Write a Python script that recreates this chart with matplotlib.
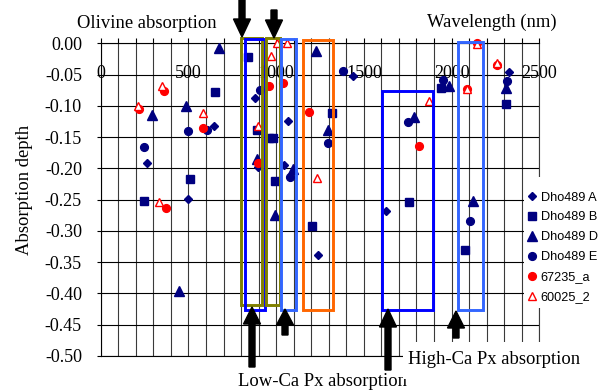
import numpy as np
import matplotlib
matplotlib.use('Agg')
import matplotlib.pyplot as plt
from matplotlib.patches import Rectangle, FancyArrow
from matplotlib.transforms import Affine2D

# ---------------- data ----------------
dia_x = [262, 496, 647, 880, 898, 1046, 1069, 1240, 1440, 1624, 2329]
dia_y = [-0.191, -0.249, -0.132, -0.088, -0.197, -0.195, -0.124, -0.338, -0.053, -0.268, -0.046]

sq_x = [247, 509, 651, 841, 889, 962, 984, 994, 1206, 1320, 1759, 1940, 2078, 2308]
sq_y = [-0.252, -0.217, -0.078, -0.022, -0.139, -0.152, -0.151, -0.220, -0.292, -0.111, -0.254, -0.071, -0.331, -0.097]

tri_x = [290, 484, 448, 674, 889, 994, 1098, 1225, 1294, 1786, 1985, 2124, 2308]
tri_y = [-0.115, -0.100, -0.396, -0.007, -0.185, -0.275, -0.201, -0.012, -0.139, -0.118, -0.069, -0.252, -0.072]

cir_x = [247, 496, 608, 909, 1079, 1297, 1379, 1753, 1949, 2105, 2314]
cir_y = [-0.166, -0.141, -0.139, -0.075, -0.213, -0.159, -0.045, -0.126, -0.059, -0.284, -0.060]

red_x = [218, 363, 370, 585, 898, 959, 1037, 1189, 1816, 2090, 2143, 2257]
red_y = [-0.105, -0.077, -0.264, -0.136, -0.192, -0.069, -0.064, -0.110, -0.164, -0.073, 0.000, -0.034]

otri_x = [211, 332, 351, 585, 898, 971, 1003, 1060, 1235, 1871, 2090, 2143, 2257]
otri_y = [-0.100, -0.254, -0.068, -0.112, -0.132, -0.020, 0.000, 0.000, -0.215, -0.092, -0.073, -0.001, -0.032]

series_labels = ['Dho489 A', 'Dho489 B', 'Dho489 D', 'Dho489 E', '67235_a', '60025_2']

x_ticks = [0, 500, 1000, 1500, 2000, 2500]
x_ticklabels = ['0', '500', '1000', '1500', '2000', '2500']
y_ticks = [0.00, -0.05, -0.10, -0.15, -0.20, -0.25, -0.30, -0.35, -0.40, -0.45, -0.50]
y_ticklabels = ['0.00', '-0.05', '-0.10', '-0.15', '-0.20', '-0.25', '-0.30', '-0.35', '-0.40', '-0.45', '-0.50']

# absorption band boxes: (x0, x1, y_top, y_bottom, colour)
boxes = [
    (797, 917, 0.009, -0.418, '#808000'),
    (820, 934, 0.0064, -0.426, '#0000FF'),
    (941, 1022, 0.009, -0.418, '#808000'),
    (1030, 1115, 0.0064, -0.426, '#3366FF'),
    (1155, 1326, 0.005, -0.426, '#FF6600'),
    (1605, 1896, -0.077, -0.426, '#0000FF'),
    (2037, 2177, 0.0016, -0.426, '#3366FF'),
]

# ---------------- figure ----------------
W, H = 600, 391
fig = plt.figure(figsize=(W / 100, H / 100), dpi=100)
px = Affine2D().scale(1 / W, -1 / H).translate(0, 1) + fig.transFigure

L, R, T, B = 100.7, 539.3, 43.3, 356.0
ax = fig.add_axes([L / W, 1 - B / H, (R - L) / W, (B - T) / H])
ax.set_xlim(0, 2500)
ax.set_ylim(-0.5, 0.0)

serif = 'Liberation Serif'
sans = 'Liberation Sans'
navy = '#000080'
red = '#FF0000'
fs_txt = 13.4
fs_tick = 13.0

kw = dict(ls='none', clip_on=False, zorder=3)
h1, = ax.plot(dia_x, dia_y, marker='D', ms=4.3, color=navy, mec=navy, **kw)
h2, = ax.plot(sq_x, sq_y, marker='s', ms=5.5, color=navy, mec=navy, **kw)
h3, = ax.plot(tri_x, tri_y, marker='^', ms=6.5, color=navy, mec=navy, **kw)
h4, = ax.plot(cir_x, cir_y, marker='o', ms=5.6, color=navy, mec=navy, **kw)
h5, = ax.plot(red_x, red_y, marker='o', ms=5.6, color=red, mec=red, **kw)
h6, = ax.plot(otri_x, otri_y, marker='^', ms=6.2, mfc='white', mec=red, mew=1.0, **kw)

# grid & axes
ax.set_xticks(x_ticks)
ax.set_xticklabels(x_ticklabels, fontfamily=serif, fontsize=fs_tick)
ax.set_xticks(np.arange(0, 2501, 100), minor=True)
ax.set_yticks(y_ticks)
ax.set_yticklabels(y_ticklabels, fontfamily=serif, fontsize=fs_tick)
ax.set_axisbelow(True)
ax.grid(axis='x', which='both', color='#3a3a3a', lw=0.8)
ax.grid(axis='y', which='major', color='black', lw=0.8)
ax.xaxis.tick_top()
ax.tick_params(axis='x', which='both', direction='out', length=3.6, width=0.8,
               top=True, bottom=False, labeltop=True, labelbottom=False, pad=-31.5)
ax.tick_params(axis='x', which='minor', labeltop=False)
ax.tick_params(axis='y', direction='out', length=3, width=0.8, pad=10.5)
for s in ax.spines.values():
    s.set_linewidth(0.8)
    s.set_color('black')
ax.spines['right'].set_color('#3a3a3a')
ax.set_ylabel('Absorption depth', fontfamily=serif, fontsize=fs_txt)
ax.yaxis.set_label_coords(-(L - 33) / (R - L), (B - 190) / (B - T))

# boxes
for x0, x1, yt, yb, c in boxes:
    ax.add_patch(Rectangle((x0, yb), x1 - x0, yt - yb, fill=False, ec=c, lw=2.1,
                           clip_on=False, zorder=4))

# arrows (figure pixel coords): x, y_tail, y_tip, head_length
arrows = [(242, 0, 37, 18), (274, 10, 38, 18), (252, 367, 307, 17),
          (285, 335, 309, 16), (388, 370, 309, 18), (456, 338, 311, 17)]
for x, y0, y1, hl in arrows:
    a = FancyArrow(x, y0, 0, y1 - y0, width=6, head_width=17, head_length=hl,
                   length_includes_head=True, color='black', transform=px, zorder=6)
    fig.add_artist(a)

# text labels
fig.text(146.5, 23, 'Olivine absorption', transform=px, ha='center', va='center',
         fontfamily=serif, fontsize=fs_txt)
fig.text(491.5, 22, 'Wavelength (nm)', transform=px, ha='center', va='center',
         fontfamily=serif, fontsize=fs_txt)
fig.text(322.5, 382, 'Low-Ca Px absorption', transform=px, ha='center', va='center',
         fontfamily=serif, fontsize=fs_txt)
fig.add_artist(Rectangle((403, 341.5), 190, 37, transform=px, fc='white', ec='none', zorder=4))
fig.text(494, 360, 'High-Ca Px absorption', transform=px, ha='center', va='center',
         fontfamily=serif, fontsize=fs_txt, zorder=5)

# legend
fig.add_artist(Rectangle((524, 177), 80, 131, transform=px, fc='white', ec='none', zorder=4))
leg = fig.legend([h1, h2, h3, h4, h5, h6], series_labels, loc='upper left',
                 bbox_to_anchor=(524 / W, 1 - 189 / H), frameon=False,
                 prop={'family': sans, 'size': 9.2}, borderpad=0.2, borderaxespad=0,
                 handlelength=0.85, handletextpad=0.27, labelspacing=0.62,
                 numpoints=1)
leg.set_zorder(5)

fig.savefig('out.png', dpi=100)
